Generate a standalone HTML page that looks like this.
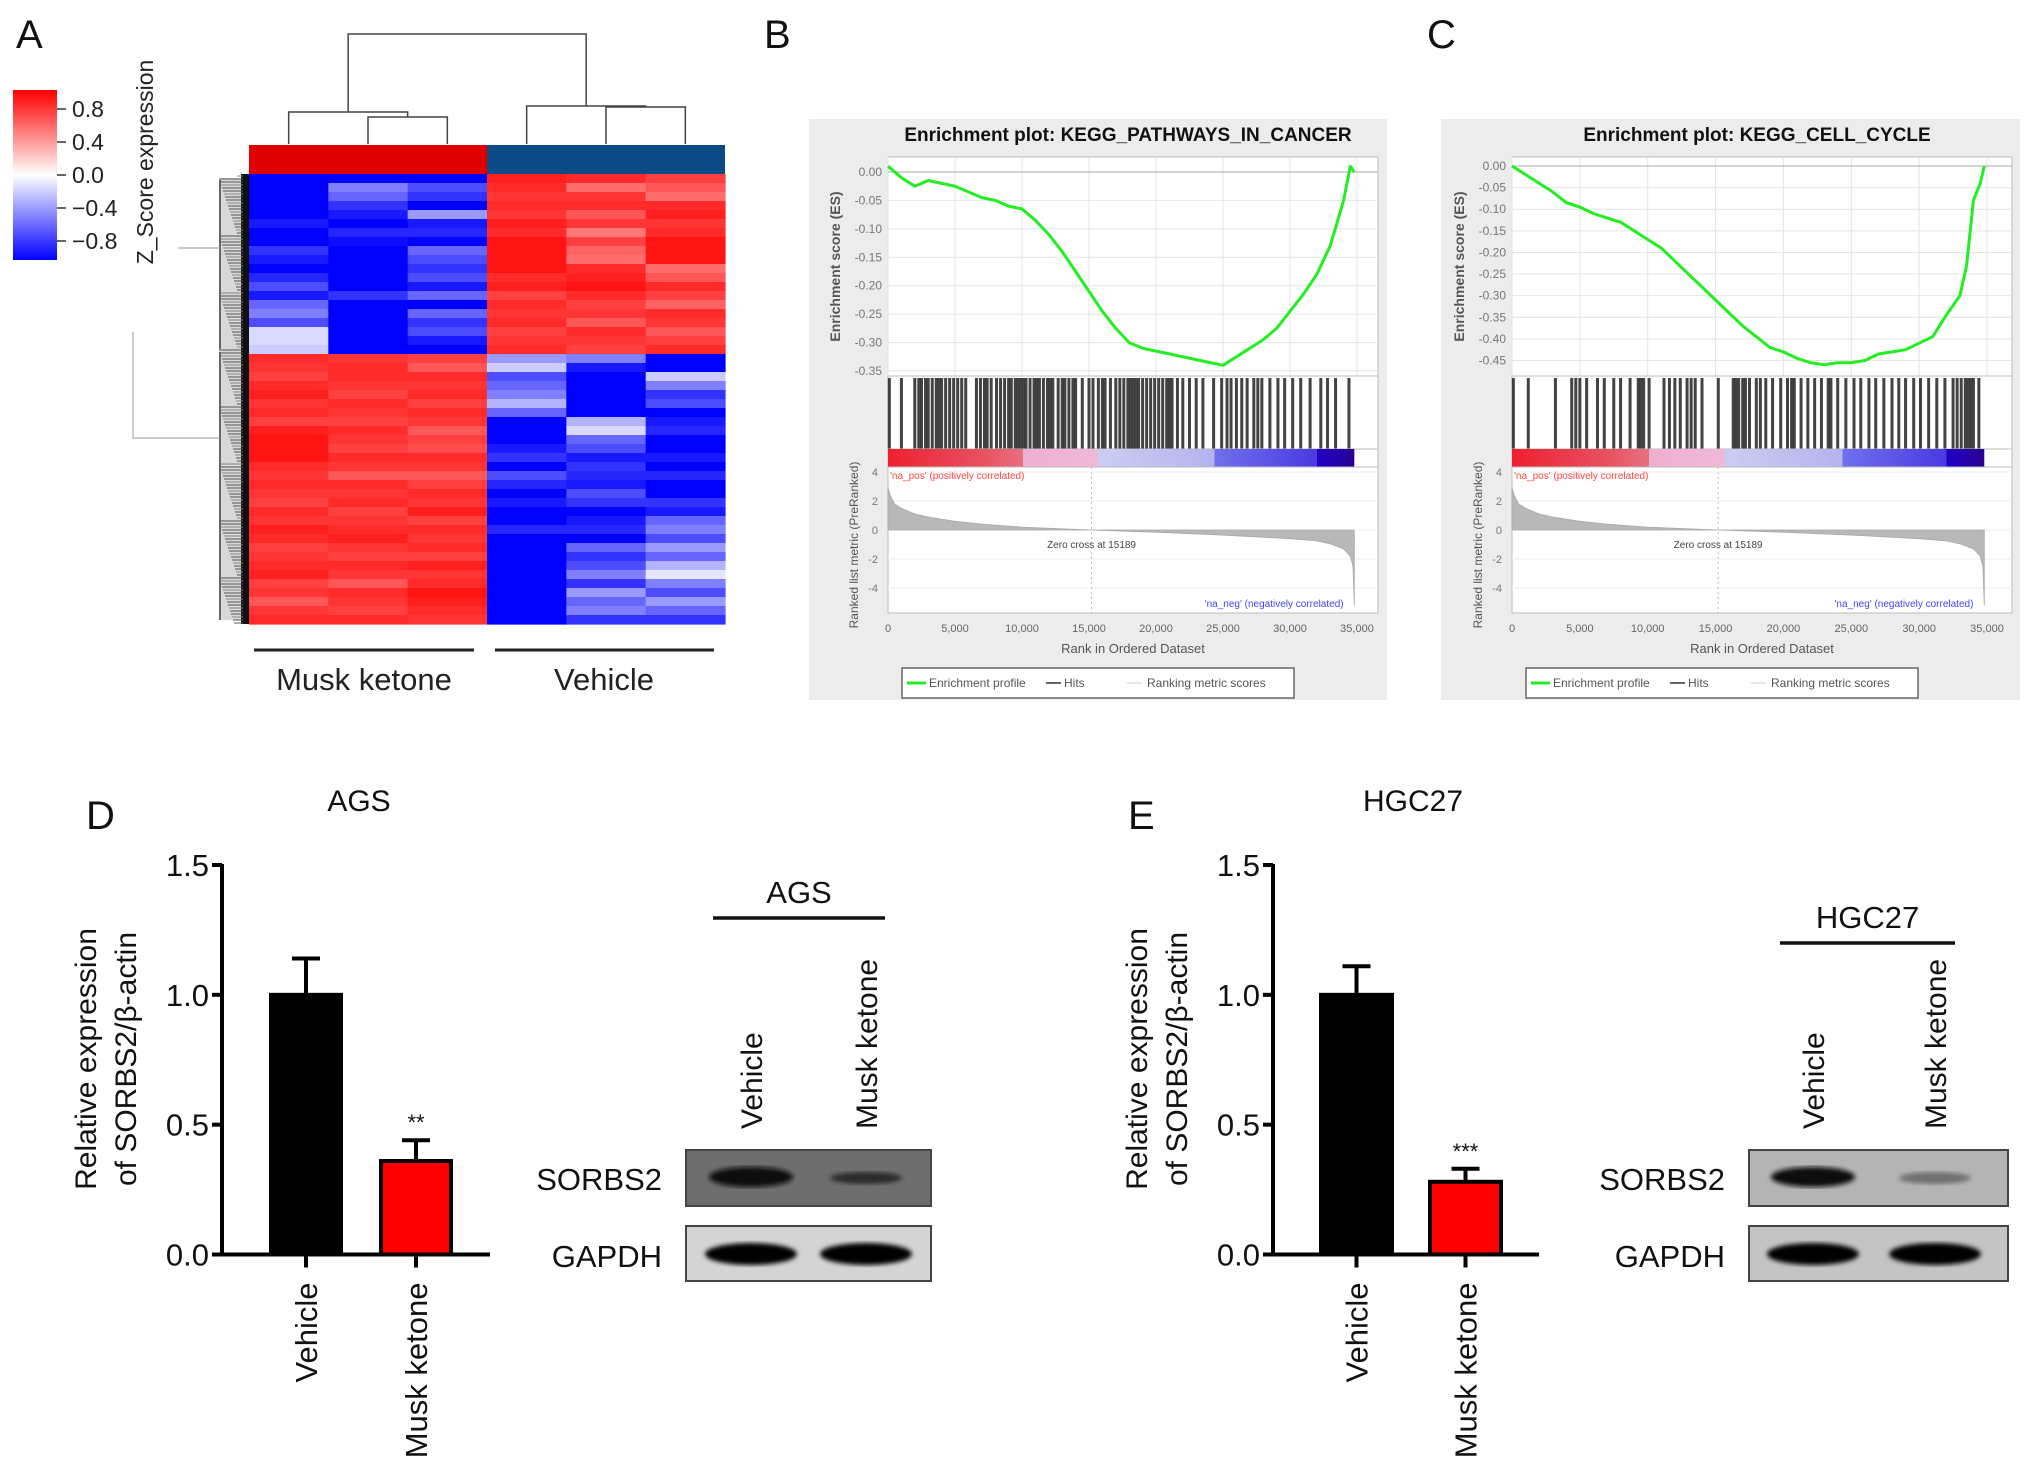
<!DOCTYPE html>
<html><head><meta charset="utf-8">
<style>
html,body{margin:0;padding:0;background:#fff;}
svg{display:block;font-family:"Liberation Sans",Arial,sans-serif;}
</style></head>
<body>
<svg id="fig" width="2032" height="1479" viewBox="0 0 2032 1479" xmlns="http://www.w3.org/2000/svg">
<defs>
<linearGradient id="zgrad" x1="0" y1="0" x2="0" y2="1">
<stop offset="0" stop-color="#ff0000"/><stop offset="0.5" stop-color="#ffffff"/><stop offset="1" stop-color="#0000ff"/>
</linearGradient>
<linearGradient id="rankgrad" x1="0" y1="0" x2="1" y2="0">
<stop offset="0" stop-color="#ee2030"/><stop offset="0.2" stop-color="#e85060"/><stop offset="0.29" stop-color="#e87080"/><stop offset="0.29" stop-color="#eeb0d0"/><stop offset="0.45" stop-color="#f0b8d8"/><stop offset="0.45" stop-color="#ccccf2"/><stop offset="0.7" stop-color="#b4b4ee"/><stop offset="0.7" stop-color="#7070ee"/><stop offset="0.92" stop-color="#4a3ae0"/><stop offset="0.92" stop-color="#2000c8"/><stop offset="1" stop-color="#2a0090"/>
</linearGradient>
<filter id="blur2"><feGaussianBlur stdDeviation="2.5"/></filter>
</defs>
<g id="panelA"></g>
<g id="panelB"></g>
<g id="panelC"></g>
<g id="panelD"></g>
<g id="panelE"></g>
</svg>
<script>
// ---------- Heatmap data (z-scores), 50 rows per column ----------
const heatColumns = ['Musk1','Musk2','Musk3','Veh1','Veh2','Veh3'];
const heatMusk1 = [-1,-1,-1,-1,-1,-0.9,-1,-1,-0.8,-0.9,-1,-0.85,-0.7,-0.9,-0.6,-0.5,-0.7,-0.15,-0.15,-0.2,0.9,0.85,0.8,0.9,0.95,0.85,0.9,0.8,0.95,1,1,1,0.9,0.85,0.9,0.85,0.8,0.9,0.85,0.95,0.9,0.8,0.85,0.9,0.95,0.8,0.85,0.7,0.85,0.9];
const heatMusk2 = [-1,-0.5,-0.6,-0.8,-0.9,-1,-0.85,-0.95,-1,-1,-1,-1,-1,-0.8,-1,-1,-1,-1,-1,-1,0.85,0.9,0.9,0.85,0.8,0.9,0.85,0.8,0.9,0.85,0.8,0.9,0.85,0.7,0.9,0.85,0.9,0.8,0.85,0.9,0.95,0.85,0.8,0.9,0.85,0.7,0.9,0.85,0.8,0.9];
const heatMusk3 = [-1,-0.7,-0.8,-1,-0.4,-0.9,-0.85,-1,-0.6,-0.7,-0.8,-0.7,-0.9,-0.6,-1,-0.6,-0.8,-0.7,-0.9,-1,0.8,0.7,0.9,0.85,0.9,0.8,0.9,0.85,0.7,0.8,0.75,0.9,0.85,0.7,0.8,0.9,0.85,0.95,0.8,0.9,0.85,0.9,0.8,0.95,0.85,0.9,1,0.95,0.9,0.85];
const heatVeh1 = [0.95,0.9,0.85,0.9,0.85,0.95,0.9,1,1,1,1,0.9,0.95,0.8,0.9,0.85,0.9,0.8,0.85,0.9,-0.4,-0.2,-0.7,-0.6,-0.5,-0.3,-0.6,-1,-1,-1,-0.9,-0.8,-1,-0.7,-0.85,-1,-0.9,-1,-1,-0.85,-1,-1,-1,-1,-1,-1,-1,-1,-1,-1];
const heatVeh2 = [0.9,0.6,0.85,0.9,0.7,0.85,0.55,0.8,0.65,0.6,0.9,0.95,1,0.9,0.8,0.85,0.7,0.9,0.85,0.8,-0.5,-0.9,-1,-1,-1,-1,-1,-0.3,-0.15,-0.6,-0.7,-0.9,-0.8,-0.85,-0.9,-0.7,-0.8,-1,-0.9,-0.85,-1,-0.6,-0.8,-0.7,-0.5,-0.8,-0.4,-0.6,-0.5,-0.8];
const heatVeh3 = [0.8,0.7,0.6,0.9,0.95,0.85,0.9,1,1,1,0.6,0.7,0.9,0.8,0.65,0.9,0.85,0.7,0.8,0.9,-1,-1,-0.2,-0.5,-0.8,-0.7,-1,-0.9,-0.85,-1,-1,-0.9,-1,-0.85,-1,-1,-0.8,-0.9,-0.6,-0.5,-0.7,-0.4,-0.6,-0.3,-0.1,-0.5,-0.7,-0.4,-0.6,-0.8];
const zTicks = [0.8,0.4,0.0,-0.4,-0.8];
const zTickLabels = ['0.8','0.4','0.0','\u22120.4','\u22120.8'];

// ---------- GSEA data ----------
const rankTicks = [0,5000,10000,15000,20000,25000,30000,35000];
const rankTickLabels = ['0','5,000','10,000','15,000','20,000','25,000','30,000','35,000'];
const metricTicks = [4,2,0,-2,-4];
const esRanksB = [0,1000,2000,3000,4000,5000,6000,7000,8000,9000,10000,11000,12000,13000,14000,15000,16000,17000,18000,19000,20000,21000,22000,23000,24000,25000,26000,27000,28000,29000,30000,31000,32000,33000,34000,34500,34800];
const esValuesB = [0.01,-0.01,-0.025,-0.015,-0.02,-0.025,-0.035,-0.045,-0.05,-0.06,-0.065,-0.085,-0.11,-0.14,-0.175,-0.21,-0.245,-0.275,-0.3,-0.31,-0.315,-0.32,-0.325,-0.33,-0.335,-0.34,-0.325,-0.31,-0.295,-0.275,-0.245,-0.215,-0.18,-0.13,-0.05,0.01,0.0];
const esTicksB = [0,-0.05,-0.1,-0.15,-0.2,-0.25,-0.3,-0.35];
const hitsB = [100,1000,2000,2300,2500,2800,3000,3300,3600,3800,4000,4300,4600,4900,5200,5500,5800,6600,6900,7200,7400,7700,8100,8400,8700,9000,9200,9500,9700,9900,10100,10300,10600,10900,11100,11300,11600,11900,12100,12300,12700,13000,13200,13500,13800,14000,14500,15000,15300,15700,16000,16200,16600,17000,17300,17600,17900,18100,18300,18500,18700,19000,19300,19600,19900,20200,20500,20800,21000,21200,21600,22000,22500,23000,23500,24300,24900,25300,25600,26000,26400,26800,27300,27600,27900,28500,29100,29600,30200,30800,31500,32300,32800,33400,34400];
const esRanksC = [0,1000,2000,3000,4000,5000,6000,7000,8000,9000,10000,11000,12000,13000,14000,15000,16000,17000,18000,19000,20000,21000,22000,23000,24000,25000,26000,27000,28000,29000,30000,31000,32000,33000,33500,34000,34500,34800];
const esValuesC = [0,-0.02,-0.04,-0.06,-0.085,-0.095,-0.11,-0.12,-0.13,-0.15,-0.17,-0.19,-0.22,-0.25,-0.28,-0.31,-0.34,-0.37,-0.395,-0.42,-0.43,-0.445,-0.455,-0.46,-0.455,-0.455,-0.45,-0.435,-0.43,-0.425,-0.41,-0.395,-0.345,-0.3,-0.23,-0.08,-0.04,0];
const esTicksC = [0,-0.05,-0.1,-0.15,-0.2,-0.25,-0.3,-0.35,-0.4,-0.45];
const hitsC = [100,1200,3200,4400,4700,5000,5500,6300,6800,7500,8000,8700,9300,9500,9700,10100,11200,11600,12000,12400,12900,13200,13500,14000,15200,16300,16500,16700,17000,17200,17500,18000,18300,18700,19200,19800,20300,20600,20800,21300,21800,22300,22800,23300,23500,24000,24600,25200,25700,26300,26800,27400,28000,28500,29000,29600,30100,30700,31300,31900,32500,32800,33100,33400,33600,33800,34000,34400];
const metricRanks = [0,200,500,1000,2000,3000,5000,7000,10000,15189,20000,25000,30000,32000,33000,34000,34500,34700,34800];
const metricValues = [2.9,2.3,1.8,1.5,1.1,0.9,0.6,0.4,0.2,0.0,-0.15,-0.35,-0.6,-0.75,-0.95,-1.3,-1.8,-2.5,-5.2];

// ---------- Bar chart data ----------
const barCategories = ['Vehicle','Musk ketone'];
const agsMeans = [1.0,0.36];
const agsErrors = [0.14,0.08];
const agsSig = ['','**'];
const hgcMeans = [1.0,0.28];
const hgcErrors = [0.11,0.05];
const hgcSig = ['','***'];
const barTicks = [0,0.5,1.0,1.5];
const barTickLabels = ['0.0','0.5','1.0','1.5'];
</script>
<script>
const NS='http://www.w3.org/2000/svg';
function mk(parent,tag,attrs,text){const e=document.createElementNS(NS,tag);for(const k in attrs)e.setAttribute(k,attrs[k]);if(text!==undefined)e.textContent=text;parent.appendChild(e);return e;}
function zColor(v){v=Math.max(-1,Math.min(1,v));let r,g,b;if(v>=0){r=255;g=Math.round(255*(1-v)*0.95+20*v);b=g;}else{const t=-v;r=Math.round(255*(1-t));g=r;b=255;}return `rgb(${r},${g},${b})`;}

// ================= PANEL A =================
(function(){
const g=document.getElementById('panelA');
let t=mk(g,'text',{x:16,y:48,'font-size':40,fill:'#111'},'A');

const cb=mk(g,'rect',{x:13,y:90,width:44,height:170,fill:'url(#zgrad)'});

const zScale=v=>175-v*(175-109)/0.8;
zTicks.forEach((v,i)=>{const y=zScale(v);
 mk(g,'line',{x1:57,x2:66,y1:y,y2:y,stroke:'#333','stroke-width':1.5});
 const tl=mk(g,'text',{x:72,y:y+8,'font-size':23,fill:'#222'},zTickLabels[i]);
 
});
t=mk(g,'text',{x:0,y:0,'font-size':23,fill:'#222','text-anchor':'middle',transform:'translate(153,162) rotate(-90)'},'Z_Score expression');

const cols=[heatMusk1,heatMusk2,heatMusk3,heatVeh1,heatVeh2,heatVeh3];
const x0=249,x1=725,y0=174,y1=624;
const cw=(x1-x0)/cols.length;const nRows=heatMusk1.length;const rh=(y1-y0)/nRows;
cols.forEach((col,ci)=>{col.forEach((v,ri)=>{
 const r=mk(g,'rect',{x:x0+ci*cw,y:y0+ri*rh,width:cw+0.6,height:rh+0.6,fill:zColor(v)});
 
});});
let ann=mk(g,'rect',{x:x0,y:145,width:3*cw,height:29,fill:'#e00000'});

ann=mk(g,'rect',{x:x0+3*cw,y:145,width:3*cw,height:29,fill:'#0b4a84'});

const cx=i=>x0+cw*(i+0.5);
const dg=mk(g,'g',{stroke:'#444','stroke-width':1.5,fill:'none'});

const p=(d)=>mk(dg,'path',{d});
p(`M${cx(1)} 144V117H${cx(2)}V144`);
p(`M${cx(0)} 144V112H${(cx(1)+cx(2))/2}V117`);
p(`M${cx(4)} 144V107H${cx(5)}V144`);
p(`M${cx(3)} 144V106H${(cx(4)+cx(5))/2}V107`);
p(`M${(cx(0)+(cx(1)+cx(2))/2)/2} 112V34H${(cx(3)+(cx(4)+cx(5))/2)/2}V106`);
// row dendrogram (dense texture)
const rg=mk(g,'g',{fill:'none'});

mk(rg,'rect',{x:219,y:y0+4,width:24,height:y1-y0-8,fill:'#d8d8d8',stroke:'none',rx:4});
mk(rg,'rect',{x:241,y:y0,width:8,height:y1-y0,fill:'#111',stroke:'none'});
for(let i=0;i<150;i++){const y=y0+2+i*3;const w=6+((i*37)%19);mk(rg,'path',{d:`M243 ${y}H${243-w}`,stroke:(i%3?'#555':'#888'),'stroke-width':1});}
mk(rg,'path',{d:`M220 180V349M220 352V620`,stroke:'#666','stroke-width':2});
mk(rg,'path',{d:`M178 248H220M133 332V438H220`,stroke:'#aaa','stroke-width':1.2});
mk(g,'line',{x1:254,x2:474,y1:650,y2:650,stroke:'#222','stroke-width':3});
mk(g,'line',{x1:495,x2:714,y1:650,y2:650,stroke:'#222','stroke-width':3});
t=mk(g,'text',{x:364,y:690,'font-size':31,fill:'#222','text-anchor':'middle'},'Musk ketone');

t=mk(g,'text',{x:604,y:690,'font-size':31,fill:'#222','text-anchor':'middle'},'Vehicle');

})();

// ================= GSEA PANELS =================
function gsea(gid,letter,letterX,bgX,bgW,plotL,plotR,x35,esTop0,esBottomTick,esTicks,esRanks,esVals,hits,title){
const g=document.getElementById(gid);
let t=mk(g,'text',{x:letterX,y:48,'font-size':40,fill:'#111'},letter);

const bg=mk(g,'rect',{x:bgX,y:119,width:bgW,height:581,fill:'#ececec'});

t=mk(g,'text',{x:(plotL+plotR)/2-5,y:141,'font-size':19,'font-weight':'bold',fill:'#111','text-anchor':'middle'},title);

mk(g,'rect',{x:plotL,y:157,width:plotR-plotL,height:456,fill:'#fff',stroke:'#bbb'});
const xs=r=>plotL+r*(x35-plotL)/35000;
const esMin=esTicks[esTicks.length-1];
const ys=v=>esTop0+v*(esBottomTick-esTop0)/esMin;
rankTicks.forEach(r=>mk(g,'line',{x1:xs(r),x2:xs(r),y1:157,y2:376,stroke:'#e4e4e4'}));
esTicks.forEach(v=>{mk(g,'line',{x1:plotL,x2:plotR,y1:ys(v),y2:ys(v),stroke:'#e4e4e4'});
 const tl=mk(g,'text',{x:plotL-6,y:ys(v)+4,'font-size':12,fill:'#777','text-anchor':'end'},v.toFixed(2));
 });
mk(g,'line',{x1:plotL,x2:plotR,y1:ys(0),y2:ys(0),stroke:'#aaa'});
const pts=esRanks.map((r,i)=>`${xs(r).toFixed(1)},${ys(esVals[i]).toFixed(1)}`).join(' ');
const pl=mk(g,'polyline',{points:pts,fill:'none',stroke:'#22ee22','stroke-width':3,'stroke-linejoin':'round'});

mk(g,'line',{x1:plotL,x2:plotR,y1:376,y2:376,stroke:'#bbb'});
t=mk(g,'text',{x:0,y:0,'font-size':14,'font-weight':'bold',fill:'#555','text-anchor':'middle',transform:`translate(${plotL-48},${(157+376)/2}) rotate(-90)`},'Enrichment score (ES)');

hits.forEach(h=>{const l=mk(g,'line',{x1:xs(h),x2:xs(h),y1:378,y2:449,stroke:'#222','stroke-width':3,'stroke-opacity':0.85});
 });
mk(g,'line',{x1:plotL,x2:plotR,y1:449,y2:449,stroke:'#bbb'});
const rb=mk(g,'rect',{x:plotL,y:449,width:xs(34800)-plotL,height:18,fill:'url(#rankgrad)'});

mk(g,'line',{x1:plotL,x2:plotR,y1:467,y2:467,stroke:'#bbb'});
const ym=v=>530-v*14.5;
metricTicks.forEach(v=>{mk(g,'line',{x1:plotL,x2:plotR,y1:ym(v),y2:ym(v),stroke:'#eee'});
 const tl=mk(g,'text',{x:plotL-10,y:ym(v)+4,'font-size':11,fill:'#777','text-anchor':'end'},String(v));
 });
let d=`M${xs(0)} ${ym(0)}`;metricRanks.forEach((r,i)=>d+=`L${xs(r).toFixed(1)} ${ym(metricValues[i]).toFixed(1)}`);d+=`L${xs(34800)} ${ym(0)}Z`;
const ar=mk(g,'path',{d,fill:'#b8b8b8',stroke:'#a8a8a8','stroke-width':0.8});

mk(g,'line',{x1:xs(15189),x2:xs(15189),y1:467,y2:613,stroke:'#bbb','stroke-dasharray':'2,3'});
t=mk(g,'text',{x:xs(15189),y:548,'font-size':10,fill:'#444','text-anchor':'middle'},'Zero cross at 15189');

t=mk(g,'text',{x:plotL+2,y:479,'font-size':10,fill:'#ff4444'},"'na_pos' (positively correlated)");

t=mk(g,'text',{x:xs(34000),y:607,'font-size':10,fill:'#4444ff','text-anchor':'end'},"'na_neg' (negatively correlated)");

t=mk(g,'text',{x:0,y:0,'font-size':12,fill:'#555','text-anchor':'middle',transform:`translate(${plotL-30},${(467+613)/2+5}) rotate(-90)`},'Ranked list metric (PreRanked)');

rankTicks.forEach((r,i)=>{const tl=mk(g,'text',{x:xs(r),y:632,'font-size':11,fill:'#666','text-anchor':'middle'},rankTickLabels[i]);
 });
t=mk(g,'text',{x:(plotL+plotR)/2,y:653,'font-size':13,fill:'#555','text-anchor':'middle'},'Rank in Ordered Dataset');

const lx=plotL+14;
const lg=mk(g,'g',{});
mk(lg,'rect',{x:lx,y:668,width:392,height:30,fill:'#fff',stroke:'#666','stroke-width':1.5});
mk(lg,'line',{x1:lx+5,x2:lx+24,y1:683,y2:683,stroke:'#22ee22','stroke-width':3});
mk(lg,'text',{x:lx+27,y:687,'font-size':12,fill:'#555'},'Enrichment profile');
mk(lg,'line',{x1:lx+144,x2:lx+159,y1:683,y2:683,stroke:'#333','stroke-width':1.5});
mk(lg,'text',{x:lx+162,y:687,'font-size':12,fill:'#555'},'Hits');
mk(lg,'line',{x1:lx+225,x2:lx+240,y1:683,y2:683,stroke:'#ddd','stroke-width':1.5});
mk(lg,'text',{x:lx+245,y:687,'font-size':12,fill:'#555'},'Ranking metric scores');
}
gsea('panelB','B',764,809,578,888,1378,1357,172,371,esTicksB,esRanksB,esValuesB,hitsB,'Enrichment plot: KEGG_PATHWAYS_IN_CANCER');
gsea('panelC','C',1427,1441,579,1512,2012,1987,166,360.5,esTicksC,esRanksC,esValuesC,hitsC,'Enrichment plot: KEGG_CELL_CYCLE');

// ================= BAR PANELS + BLOTS =================
function barPanel(gid,letter,letterX,title,titleX,axX,axR,barL,barW,gap,means,errs,sig,blot){
const g=document.getElementById(gid);
let t=mk(g,'text',{x:letterX,y:829,'font-size':40,fill:'#111'},letter);

t=mk(g,'text',{x:titleX,y:811,'font-size':30,fill:'#111','text-anchor':'middle'},title);

const y0=1254.5,yTop=865;
const ys=v=>y0-v*(y0-yTop)/1.5;
mk(g,'line',{x1:axX,x2:axX,y1:ys(1.5)-1,y2:y0+2,stroke:'#000','stroke-width':4});
mk(g,'line',{x1:axX-2,x2:axR,y1:y0,y2:y0,stroke:'#000','stroke-width':4});
barTicks.forEach((v,i)=>{mk(g,'line',{x1:axX-10,x2:axX,y1:ys(v),y2:ys(v),stroke:'#000','stroke-width':4});
 const tl=mk(g,'text',{x:axX-13,y:ys(v)+11,'font-size':31,fill:'#111','text-anchor':'end'},barTickLabels[i]);
 });
t=mk(g,'text',{x:0,y:0,'font-size':30,fill:'#111','text-anchor':'middle',transform:`translate(${axX-126},1059) rotate(-90)`},'Relative expression');

t=mk(g,'text',{x:0,y:0,'font-size':30,fill:'#111','text-anchor':'middle',transform:`translate(${axX-86},1059) rotate(-90)`},'of SORBS2/\u03b2-actin');

means.forEach((m,i)=>{const x=barL+i*gap;const cx=x+barW/2;
 const er=mk(g,'path',{d:`M${cx} ${ys(m)}V${ys(m+errs[i])}M${cx-14} ${ys(m+errs[i])}H${cx+14}`,stroke:'#000','stroke-width':4,fill:'none'});
 
 const b=mk(g,'rect',{x:x,y:ys(m),width:barW,height:y0-ys(m),fill:i===0?'#000':'#ff0000',stroke:'#000','stroke-width':4});
 
 if(sig[i]){const s=mk(g,'text',{x:cx,y:ys(m+errs[i])-10,'font-size':22,fill:'#111','text-anchor':'middle'},sig[i]);
  }
 mk(g,'line',{x1:cx,x2:cx,y1:y0,y2:y0+13,stroke:'#000','stroke-width':4});
 const xl=mk(g,'text',{x:0,y:0,'font-size':31,fill:'#111','text-anchor':'end',transform:`translate(${cx+11},${y0+28}) rotate(-90)`},barCategories[i]);
 
});
const b=blot;
const wg=mk(g,'g',{});
t=mk(wg,'text',{x:(b.l1+b.l2)/2,y:b.ty,'font-size':31,fill:'#111','text-anchor':'middle'},title);

mk(wg,'line',{x1:b.l1,x2:b.l2,y1:b.ly,y2:b.ly,stroke:'#111','stroke-width':3.5});
barCategories.forEach((c,i)=>{const lt=mk(wg,'text',{x:0,y:0,'font-size':30,fill:'#111',transform:`translate(${b.lanes[i]+11},1129) rotate(-90)`},c);
 });
let r=mk(wg,'rect',{x:b.x,y:1150,width:b.w,height:56,fill:b.sorbsBg,stroke:'#444','stroke-width':2});

mk(wg,'ellipse',{cx:b.lanes[0],cy:1177,rx:42,ry:10,fill:'#0a0a0a',filter:'url(#blur2)'});
mk(wg,'ellipse',{cx:b.lanes[1],cy:1178,rx:36,ry:6,fill:b.weak,filter:'url(#blur2)'});
r=mk(wg,'rect',{x:b.x,y:1226,width:b.w,height:55,fill:b.gapdhBg,stroke:'#444','stroke-width':2});

mk(wg,'ellipse',{cx:b.lanes[0],cy:1254,rx:46,ry:11,fill:'#050505',filter:'url(#blur2)'});
mk(wg,'ellipse',{cx:b.lanes[1],cy:1254,rx:46,ry:11,fill:'#050505',filter:'url(#blur2)'});
t=mk(wg,'text',{x:b.x-24,y:1190,'font-size':31,fill:'#111','text-anchor':'end'},'SORBS2');

t=mk(wg,'text',{x:b.x-24,y:1267,'font-size':31,fill:'#111','text-anchor':'end'},'GAPDH');

}
barPanel('panelD','D',86,'AGS',359,222,490,271,70,110,agsMeans,agsErrors,agsSig,
 {x:686,w:245,l1:713,l2:885,ly:918,ty:903,lanes:[751,866],sorbsBg:'#6e6e6e',gapdhBg:'#d4d4d4',weak:'#2a2a2a'});
barPanel('panelE','E',1128,'HGC27',1413,1273,1539,1321,71,109,hgcMeans,hgcErrors,hgcSig,
 {x:1749,w:259,l1:1780,l2:1955,ly:943,ty:928,lanes:[1813,1935],sorbsBg:'#b4b4b4',gapdhBg:'#c4c4c4',weak:'#707070'});
</script>
</body></html>
